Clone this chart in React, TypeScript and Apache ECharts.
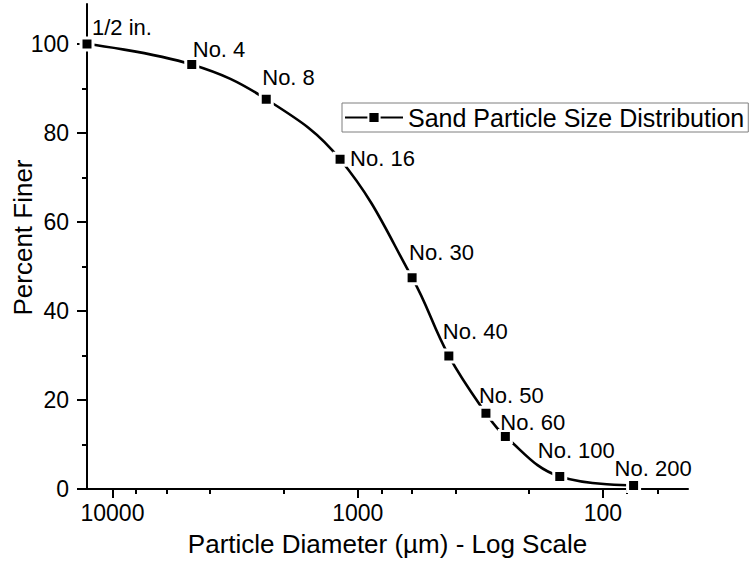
import React, { useEffect, useRef } from "react";
import * as echarts from "echarts";

const sieveNames = ["1/2 in.", "No. 4", "No. 8", "No. 16", "No. 30", "No. 40", "No. 50", "No. 60", "No. 100", "No. 200"];
const diameters = [12700, 4750, 2360, 1180, 600, 425, 300, 250, 150, 75];
const percentFiner = [100, 95.4, 87.6, 74.1, 47.5, 29.9, 17.0, 11.8, 2.8, 0.8];
const xMajorTicks = [10000, 1000, 100];
const xMinorTicks = [8000, 6000, 4000, 2000, 800, 600, 400, 200, 80, 60];
const yMajorTicks = [0, 20, 40, 60, 80, 100];
const yMinorTicks = [10, 30, 50, 70, 90];
const labelOffsets = [
  [5, -17], [1, -15], [-4, -22], [10, -1], [-3, -25],
  [-6, -24], [-7, -18], [-5, -14], [-22, -26], [-19, -17],
];

const FONT = "Liberation Sans, Arial, sans-serif";
const X_MIN = 45;
const X_MAX = 12700;
const Y_MIN = 0;
const Y_MAX = 109;

export default function App() {
  const ref = useRef<HTMLDivElement>(null);
  useEffect(() => {
    if (!ref.current) return;
    const chart = echarts.init(ref.current, undefined, { renderer: "svg" });
    const data = diameters.map((d, i) => ({
      name: sieveNames[i],
      value: [d, percentFiner[i]],
      label: { offset: labelOffsets[i] },
    }));
    const axisLineStyle = { color: "#000", width: 2 };
    chart.setOption({
      animation: false,
      backgroundColor: "#fff",
      textStyle: { fontFamily: FONT, color: "#000" },
      grid: { left: 87, right: 65, top: 4, bottom: 75, outerBoundsMode: "none", containLabel: false },
      legend: {
        data: ["Sand Particle Size Distribution"],
        left: 342,
        top: 103,
        orient: "horizontal",
        borderColor: "#7f7f7f",
        borderWidth: 1,
        padding: [2, 4, 2, 2],
        itemWidth: 58,
        itemHeight: 14,
        textStyle: { fontFamily: FONT, fontSize: 25, color: "#000", padding: [0, 0, 0, 0] },
      },
      xAxis: [
        {
          type: "log",
          logBase: 10,
          min: X_MIN,
          max: X_MAX,
          inverse: true,
          name: "Particle Diameter (µm) - Log Scale",
          nameLocation: "middle",
          nameGap: 42,
          nameTextStyle: { fontFamily: FONT, fontSize: 26, color: "#000" },
          axisLine: { show: true, lineStyle: axisLineStyle },
          axisTick: { show: true, length: 9, lineStyle: { color: "#000", width: 2 }, customValues: xMajorTicks },
          axisLabel: {
            show: true,
            margin: 12,
            fontFamily: FONT,
            fontSize: 23,
            color: "#000",
            customValues: xMajorTicks,
            formatter: (v: number) => String(Math.round(v)),
          },
          splitLine: { show: false },
          minorTick: { show: false },
        },
        {
          type: "log",
          logBase: 10,
          min: X_MIN,
          max: X_MAX,
          inverse: true,
          position: "bottom",
          axisLine: { show: false },
          axisTick: { show: true, length: 5, lineStyle: { color: "#000", width: 2 }, customValues: xMinorTicks },
          axisLabel: { show: false },
          splitLine: { show: false },
        },
      ],
      yAxis: [
        {
          type: "value",
          min: Y_MIN,
          max: Y_MAX,
          position: "left",
          name: "Percent Finer",
          nameLocation: "middle",
          nameGap: 51,
          nameMoveOverlap: false,
          nameTextStyle: { fontFamily: FONT, fontSize: 26, color: "#000", padding: [0, 0, 0, 18] },
          axisLine: { show: true, lineStyle: axisLineStyle },
          axisTick: { show: true, length: 10, lineStyle: { color: "#000", width: 2 }, customValues: yMajorTicks },
          axisLabel: { show: true, margin: 18, fontFamily: FONT, fontSize: 23, color: "#000", customValues: yMajorTicks },
          splitLine: { show: false },
        },
        {
          type: "value",
          min: Y_MIN,
          max: Y_MAX,
          position: "left",
          axisLine: { show: false },
          axisTick: { show: true, length: 5, lineStyle: { color: "#000", width: 2 }, customValues: yMinorTicks },
          axisLabel: { show: false },
          splitLine: { show: false },
        },
      ],
      series: [
        {
          name: "Sand Particle Size Distribution",
          type: "line",
          xAxisIndex: 0,
          yAxisIndex: 0,
          data,
          smooth: 0.4,
          clip: false,
          symbol: "rect",
          symbolSize: 12,
          lineStyle: { color: "#000", width: 2.6 },
          itemStyle: { color: "#000", borderColor: "#fff", borderWidth: 3 },
          label: {
            show: true,
            position: "inside",
            align: "left",
            verticalAlign: "middle",
            formatter: "{b}",
            fontFamily: FONT,
            fontSize: 22,
            color: "#000",
          },
          emphasis: { disabled: true },
        },
      ],
    });
    return () => chart.dispose();
  }, []);
  return (
    <div
      ref={ref}
      style={{ position: "fixed", left: 0, top: 0, width: 753, height: 564, background: "#fff" }}
    />
  );
}
